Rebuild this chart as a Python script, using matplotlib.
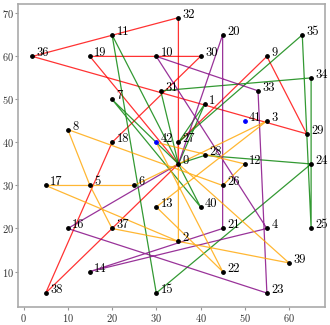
import numpy as np
import matplotlib
matplotlib.use("Agg")
import matplotlib.pyplot as plt

plt.rcParams['font.family'] = 'serif'
plt.rcParams['font.serif'] = ['cmr10']
plt.rcParams['mathtext.fontset'] = 'cm'
plt.rcParams['axes.formatter.use_mathtext'] = True

# node coordinates (index = node id)
xs = [35, 41, 35, 55, 55, 15, 25, 20, 10, 55,
      30, 20, 50, 30, 15, 30, 10, 5, 20, 15,
      45, 45, 45, 55, 65, 65, 45, 35, 41, 64,
      40, 31, 35, 53, 65, 63, 2, 20, 5, 60,
      40, 50, 30]
ys = [35, 49, 17, 45, 20, 30, 30, 50, 43, 60,
      60, 65, 35, 25, 10, 5, 20, 30, 40, 60,
      65, 20, 10, 5, 35, 20, 30, 40, 37, 42,
      60, 52, 69, 52, 55, 65, 60, 20, 5, 12,
      25, 45, 40]
stations = [41, 42]

red_routes = [[0, 19, 30, 18, 38, 0],
              [0, 32, 36, 29, 9, 27, 0]]
green_routes = [[0, 7, 40, 11, 15, 24, 28, 0],
                [0, 1, 27, 35, 25, 34, 31, 0]]
purple_routes = [[0, 20, 21, 14, 4, 10, 33, 23, 16, 0]]
orange_routes = [[0, 2, 17, 6, 3, 13, 22, 42, 12, 26, 8, 5, 37, 39, 0]]

fig = plt.figure(figsize=(3.3, 3.25), dpi=100)
ax = fig.add_axes([0.056, 0.056, 0.929, 0.932])

for routes, c in [(red_routes, 'red'), (green_routes, 'green'),
                  (purple_routes, 'purple'), (orange_routes, 'orange')]:
    for r in routes:
        ax.plot([xs[i] for i in r], [ys[i] for i in r], color=c, lw=0.9, alpha=0.8)

cust = [i for i in range(len(xs)) if i not in stations]
ax.scatter([xs[i] for i in cust], [ys[i] for i in cust], s=6, c='black', zorder=3)
ax.scatter([xs[i] for i in stations], [ys[i] for i in stations], s=6, c='blue', zorder=3)
for i in range(len(xs)):
    ax.text(xs[i] + 1, ys[i], str(i), fontsize=9)

for s in ax.spines.values():
    s.set_color('#aaaaaa')
    s.set_linewidth(1.2)
ax.tick_params(colors='#999999', labelcolor='#333333', labelsize=7.5, length=2.5, pad=1)
ax.set_xticks([0, 10, 20, 30, 40, 50, 60])
ax.set_yticks([10, 20, 30, 40, 50, 60, 70])

plt.savefig('out.png', format='png')
